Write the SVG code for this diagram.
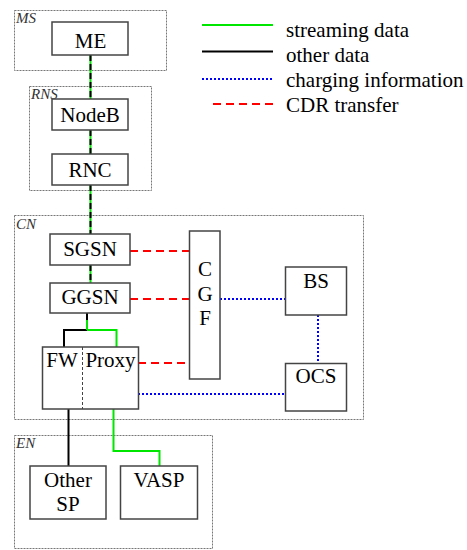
<svg xmlns="http://www.w3.org/2000/svg" width="467" height="550" viewBox="0 0 467 550" font-family="Liberation Serif, Times New Roman, serif">
<style>
.bg{fill:#fff}
.grp{fill:none;stroke:#777;stroke-width:1;stroke-dasharray:2,1}
.glab{font-style:italic;font-size:15px;fill:#333}
.box{fill:#fff;stroke:#444;stroke-width:1.5}
.t{font-size:21px;fill:#000;text-anchor:middle}
.lt{font-size:21px;fill:#000}
.green{fill:none;stroke:#00e600;stroke-width:2}
.blackd{fill:none;stroke:#000;stroke-width:2;stroke-dasharray:6,3}
.black{fill:none;stroke:#000;stroke-width:2}
.red{fill:none;stroke:#f00;stroke-width:2;stroke-dasharray:8,5}
.blue{fill:none;stroke:#00f;stroke-width:2;stroke-dasharray:2,2}
</style>
<rect class="bg" x="0" y="0" width="467" height="550"/>
<g id="groups" font-family="Liberation Serif, serif">
<rect class="grp" x="14.5" y="10.5" width="152" height="60"/>
<text class="glab" x="16" y="23">MS</text>
<rect class="grp" x="29.5" y="86.5" width="122" height="104"/>
<text class="glab" x="31" y="99">RNS</text>
<rect class="grp" x="14.5" y="215.5" width="349" height="204"/>
<text class="glab" x="16" y="229">CN</text>
<rect class="grp" x="14.5" y="435.5" width="198" height="113"/>
<text class="glab" x="16" y="448">EN</text>
</g>
<g id="connectors">
<path class="green" d="M90.5 55V99M90.5 130V154M90.5 185V234M90.5 265V283"/>
<path class="blackd" d="M90.5 55V99M90.5 130V154M90.5 185V234M90.5 265V283"/>
<path class="black" d="M87 313V330H64V347"/>
<path class="green" d="M87 330H116.5V347"/>
<path class="green" d="M87 320V330"/>
<path class="black" d="M68.5 409V466"/>
<path class="green" d="M113.5 409V451H159.5V466"/>
<path class="red" d="M130 251H189M130 299H189M138 363H189"/>
<path class="blue" d="M220 299H285M318 315V363M138 394H285"/>
</g>
<g font-family="Liberation Serif, serif">
<g id="ME"><rect class="box" x="52" y="22" width="76" height="33"/><text class="t" x="90.5" y="48">ME</text></g>
<g id="NodeB"><rect class="box" x="52" y="99" width="76" height="31"/><text class="t" x="90" y="122">NodeB</text></g>
<g id="RNC"><rect class="box" x="52" y="154" width="76" height="31"/><text class="t" x="90" y="177">RNC</text></g>
<g id="SGSN"><rect class="box" x="50" y="234" width="80" height="31"/><text class="t" x="90" y="256">SGSN</text></g>
<g id="GGSN"><rect class="box" x="50" y="283" width="80" height="30"/><text class="t" x="90" y="304">GGSN</text></g>
<g id="FWProxy"><rect class="box" x="42.5" y="347" width="96" height="62"/><line x1="82.5" y1="347" x2="82.5" y2="409" stroke="#444" stroke-width="1" stroke-dasharray="3,2"/><text class="t" x="62" y="367">FW</text><text class="t" x="110.5" y="367">Proxy</text></g>
<g id="CGF"><rect class="box" x="189.5" y="231" width="30.5" height="148"/><text class="t" x="205" y="276">C</text><text class="t" x="205" y="301">G</text><text class="t" x="205" y="325">F</text></g>
<g id="BS"><rect class="box" x="285.5" y="267" width="61" height="48"/><text class="t" x="316" y="288">BS</text></g>
<g id="OCS"><rect class="box" x="285.5" y="363.5" width="61" height="47.5"/><text class="t" x="316" y="383">OCS</text></g>
<g id="OtherSP"><rect class="box" x="30" y="466" width="76" height="53"/><text class="t" x="68" y="487">Other</text><text class="t" x="68" y="511">SP</text></g>
<g id="VASP"><rect class="box" x="120.5" y="466" width="77" height="53"/><text class="t" x="159" y="487">VASP</text></g>
</g>
<g id="legend" font-family="Liberation Serif, serif">
<line class="green" x1="202" y1="25" x2="273" y2="25"/>
<line class="black" x1="202" y1="51.5" x2="273" y2="51.5"/>
<line class="blue" x1="202" y1="79" x2="273" y2="79"/>
<line class="red" x1="213" y1="104" x2="273" y2="104"/>
<text class="lt" x="286" y="37">streaming data</text>
<text class="lt" x="286" y="62">other data</text>
<text class="lt" x="286" y="87">charging information</text>
<text class="lt" x="286" y="112">CDR transfer</text>
</g>
</svg>
